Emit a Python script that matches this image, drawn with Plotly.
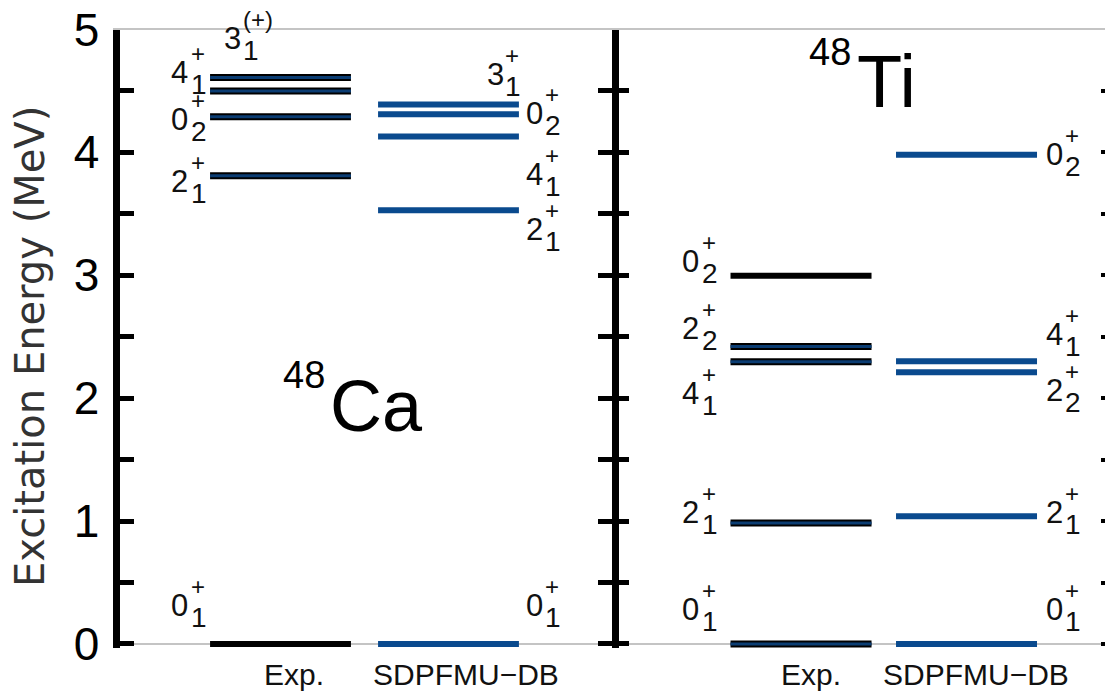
import plotly.graph_objects as go

# ---------------- data ----------------
columns = ["Exp.", "SDPFMU\u2212DB"]
y_ticks = [0, 1, 2, 3, 4, 5]

ca_exp_energy = [0.0, 3.81, 4.29, 4.50, 4.61]
ca_exp_spin = ["0", "2", "0", "4", "3"]
ca_exp_index = ["1", "1", "2", "1", "1"]
ca_exp_parity = ["+", "+", "+", "+", "(+)"]

ca_th_energy = [0.0, 3.53, 4.13, 4.31, 4.39]
ca_th_spin = ["0", "2", "4", "0", "3"]
ca_th_index = ["1", "1", "1", "2", "1"]
ca_th_parity = ["+", "+", "+", "+", "+"]

ti_exp_energy = [0.0, 0.984, 2.296, 2.421, 2.997]
ti_exp_spin = ["0", "2", "4", "2", "0"]
ti_exp_index = ["1", "1", "1", "2", "2"]
ti_exp_parity = ["+", "+", "+", "+", "+"]

ti_th_energy = [0.0, 1.04, 2.21, 2.30, 3.98]
ti_th_spin = ["0", "2", "2", "4", "0"]
ti_th_index = ["1", "1", "2", "1", "2"]
ti_th_parity = ["+", "+", "+", "+", "+"]

# ---------------- layout / style ----------------
W, H = 1105, 691
FONT = "Liberation Sans, Arial, sans-serif"
NAVY = "#0b3d73"
BLUE = "#0a4a8e"
HALF = 1.43

# level column centres (panel data units) and column-label positions
ca_centers = [3.269, 6.680]
ti_centers = [3.834, 7.191]
ca_collabel_x = [3.543, 7.036]
ti_collabel_x = [4.036, 7.383]

# label vertical positions (MeV) for readability
ca_exp_label_y = [0.31, 3.76, 4.27, 4.65, 4.93]
ca_th_label_y = [0.31, 3.37, 3.82, 4.32, 4.63]
ti_exp_label_y = [0.28, 1.07, 2.04, 2.57, 3.11]
ti_th_label_y = [0.28, 1.07, 2.06, 2.52, 3.98]

# exp levels drawn solid black (others navy with black rim)
ca_exp_solid = [True, False, False, False, False]
ti_exp_solid = [False, False, False, False, True]

Y0, Y1 = -0.032, 5.0
ydom = [(H - 647.9) / H, (H - 29.5) / H]
xdom1 = [119.5 / W, 612 / W]
xdom2 = [612 / W, 1.0]

fig = go.Figure()
ann = []


def add_levels(energies, center, xa, ya, color, solid=None, rim=True):
    for i, e in enumerate(energies):
        xs = [center - HALF, center + HALF]
        ys = [e, e]
        if rim:
            if solid[i]:
                fig.add_trace(go.Scatter(x=xs, y=ys, mode="lines", xaxis=xa, yaxis=ya,
                                         line=dict(color="black", width=6),
                                         hoverinfo="skip", showlegend=False))
            else:
                fig.add_trace(go.Scatter(x=xs, y=ys, mode="lines", xaxis=xa, yaxis=ya,
                                         line=dict(color="black", width=7),
                                         hoverinfo="skip", showlegend=False))
                fig.add_trace(go.Scatter(x=xs, y=ys, mode="lines", xaxis=xa, yaxis=ya,
                                         line=dict(color=color, width=3),
                                         hoverinfo="skip", showlegend=False))
        else:
            fig.add_trace(go.Scatter(x=xs, y=ys, mode="lines", xaxis=xa, yaxis=ya,
                                     line=dict(color=color, width=6),
                                     hoverinfo="skip", showlegend=False))


def add_label(xa, ya, x, y, spin, idx, par, xanchor, dx, sdx):
    col = "#111111"
    ann.append(dict(x=x, y=y, xref=xa, yref=ya, text=spin, showarrow=False,
                    xanchor=xanchor, yanchor="middle", xshift=dx,
                    font=dict(family=FONT, size=31, color=col)))
    ann.append(dict(x=x, y=y, xref=xa, yref=ya, text=par, showarrow=False,
                    xanchor="left", yanchor="middle", xshift=sdx, yshift=19,
                    font=dict(family=FONT, size=24, color=col)))
    ann.append(dict(x=x, y=y, xref=xa, yref=ya, text=idx, showarrow=False,
                    xanchor="left", yanchor="middle", xshift=sdx, yshift=-12,
                    font=dict(family=FONT, size=28, color=col)))


# 48Ca panel
add_levels(ca_exp_energy, ca_centers[0], "x", "y", NAVY, ca_exp_solid)
add_levels(ca_th_energy, ca_centers[1], "x", "y", BLUE, rim=False)
for i in range(len(ca_exp_energy)):
    left = ca_centers[0] - HALF
    if ca_exp_parity[i] == "(+)":
        add_label("x", "y", left, ca_exp_label_y[i], ca_exp_spin[i], ca_exp_index[i],
                  ca_exp_parity[i], "left", 12, 31)
    else:
        add_label("x", "y", left, ca_exp_label_y[i], ca_exp_spin[i], ca_exp_index[i],
                  ca_exp_parity[i], "right", -20, -21)
for i in range(len(ca_th_energy)):
    right = ca_centers[1] + HALF
    if i == len(ca_th_energy) - 1:
        add_label("x", "y", right, ca_th_label_y[i], ca_th_spin[i], ca_th_index[i],
                  ca_th_parity[i], "right", -13, -16)
    else:
        add_label("x", "y", right, ca_th_label_y[i], ca_th_spin[i], ca_th_index[i],
                  ca_th_parity[i], "left", 5, 24)

# 48Ti panel
add_levels(ti_exp_energy, ti_centers[0], "x2", "y2", NAVY, ti_exp_solid)
add_levels(ti_th_energy, ti_centers[1], "x2", "y2", BLUE, rim=False)
for i in range(len(ti_exp_energy)):
    left = ti_centers[0] - HALF
    add_label("x2", "y2", left, ti_exp_label_y[i], ti_exp_spin[i], ti_exp_index[i],
              ti_exp_parity[i], "right", -30, -31)
for i in range(len(ti_th_energy)):
    right = ti_centers[1] + HALF
    add_label("x2", "y2", right, ti_th_label_y[i], ti_th_spin[i], ti_th_index[i],
              ti_th_parity[i], "left", 7, 26)

# helper trace so the right-edge tick axis is drawn
fig.add_trace(go.Scatter(x=[None], y=[None], xaxis="x2", yaxis="y3",
                         showlegend=False, hoverinfo="skip"))

# column labels
for xa, xs in (("x", ca_collabel_x), ("x2", ti_collabel_x)):
    for c, xv in zip(columns, xs):
        ann.append(dict(x=xv, y=(H - 674) / H, xref=xa, yref="paper", text=c,
                        showarrow=False, xanchor="center", yanchor="middle",
                        borderpad=0,
                        font=dict(family=FONT, size=30, color="#111111")))

# nucleus names
ann.append(dict(x=327 / W, y=(H - 375) / H, xref="paper", yref="paper", text="48",
                showarrow=False, xanchor="right", yanchor="middle",
                font=dict(family=FONT, size=38, color="black")))
ann.append(dict(x=328 / W, y=(H - 406) / H, xref="paper", yref="paper", text="Ca",
                showarrow=False, xanchor="left", yanchor="middle",
                font=dict(family=FONT, size=72, color="black")))
ann.append(dict(x=853 / W, y=(H - 52) / H, xref="paper", yref="paper", text="48",
                showarrow=False, xanchor="right", yanchor="middle",
                font=dict(family=FONT, size=38, color="black")))
ann.append(dict(x=855 / W, y=(H - 82) / H, xref="paper", yref="paper", text="Ti",
                showarrow=False, xanchor="left", yanchor="middle",
                font=dict(family=FONT, size=74, color="black")))

# y-axis title
ann.append(dict(x=30 / W, y=(H - 347) / H, xref="paper", yref="paper",
                text="Excitation Energy (MeV)", textangle=-90, showarrow=False,
                xanchor="center", yanchor="middle",
                font=dict(family="DejaVu Sans, sans-serif", size=40, color="#333333")))

GRAY = "#c4c4c4"
xcommon = dict(range=[0, 10], side="top", showline=True, linecolor=GRAY, linewidth=2,
               ticks="", showticklabels=False, showgrid=False, zeroline=False,
               fixedrange=True, automargin=False)
minor = dict(dtick=0.5, ticks="inside", ticklen=14, tickwidth=5, tickcolor="black")

fig.update_layout(
    width=W, height=H,
    margin=dict(l=0, r=0, t=0, b=0, autoexpand=False),
    paper_bgcolor="white", plot_bgcolor="white",
    showlegend=False,
    xaxis=dict(domain=xdom1, anchor="y", **xcommon),
    xaxis2=dict(domain=xdom2, anchor="y2", **xcommon),
    yaxis=dict(domain=ydom, anchor="x", range=[Y0, Y1], tickvals=y_ticks,
               showline=True, linecolor="black", linewidth=7, mirror="ticks",
               ticks="inside", ticklen=14, tickwidth=5, tickcolor="black",
               minor=minor, showgrid=False, automargin=False,
               zeroline=True, zerolinecolor=GRAY, zerolinewidth=2,
               tickfont=dict(family=FONT, size=46, color="black"),
               ticklabelstandoff=4),
    yaxis2=dict(domain=ydom, anchor="x2", range=[Y0, Y1], tickvals=y_ticks,
                showline=False, ticks="inside", ticklen=17, tickwidth=5,
                tickcolor="black", automargin=False,
                minor=dict(dtick=0.5, ticks="inside", ticklen=17, tickwidth=5,
                           tickcolor="black"),
                showticklabels=False, showgrid=False,
                zeroline=True, zerolinecolor=GRAY, zerolinewidth=2),
    yaxis3=dict(domain=ydom, anchor="x2", overlaying="y2", side="right",
                range=[Y0, Y1], tickvals=y_ticks, showline=False,
                ticks="inside", ticklen=4, tickwidth=4, tickcolor="black",
                automargin=False,
                minor=dict(dtick=0.5, ticks="inside", ticklen=4, tickwidth=4,
                           tickcolor="black"),
                showticklabels=False, showgrid=False, zeroline=False),
    annotations=ann,
)

fig.write_html("out.html")
